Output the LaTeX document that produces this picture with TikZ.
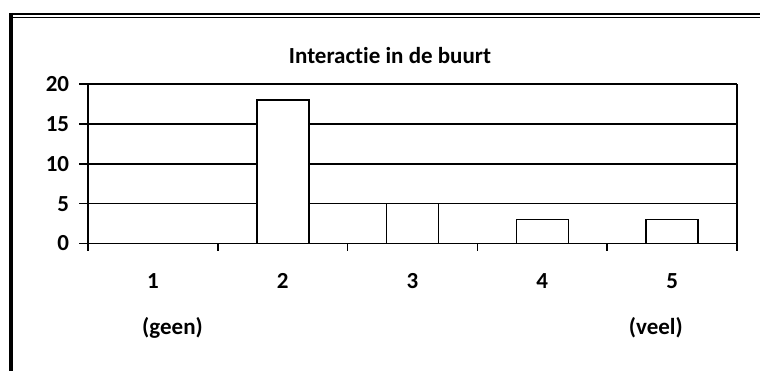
\documentclass[tikz,border=0pt]{standalone}
\usepackage{fontspec}
\setmainfont[RawFeature=-liga]{Carlito}
\begin{document}
\begin{tikzpicture}[x=1pt,y=-1pt,
  lbl/.style={inner sep=0pt, font=\fontsize{23}{27}\selectfont\bfseries},
  gridln/.style={line width=1.6pt},
  barbox/.style={draw, fill=white, line width=1.6pt},
  frame/.style={line cap=butt}]
\useasboundingbox (0,0) rectangle (760,371);
\fill[white] (0,0) rectangle (760,371);
% page border
\draw[frame, line width=2.4pt] (9,14.0) -- (760,14.0);
\draw[frame, line width=1.1pt] (13,17.3) -- (760,17.3);
\draw[frame, line width=4pt] (11,12.8) -- (11,371);
% plot geometry
\def\xa{88}\def\cw{129.8}\def\yz{243.5}\def\uy{7.96}
% grid lines and y ticks
\foreach \v in {0,5,10,15,20}{
  \draw[gridln] (79.3,\yz-\v*\uy) -- (737,\yz-\v*\uy);
}
% axes
\draw[gridln] (\xa,84.3) -- (\xa,251.5);
\draw[gridln] (737,84.3) -- (737,251.5);
\foreach \i in {1,2,3,4}{
  \draw[gridln] (\xa+\i*\cw,\yz) -- (\xa+\i*\cw,251.5);
}
% bars
\foreach \i/\v in {2/18,3/5,4/3,5/3}{
  \draw[barbox] (\xa+\i*\cw-\cw/2-26,\yz) rectangle (\xa+\i*\cw-\cw/2+26,\yz-\v*\uy);
}
% y labels
\foreach \v in {0,5,10,15,20}{
  \node[lbl, anchor=east] (y\v) at (69.3,\yz-\v*\uy) {\v};
}
% title
\node[lbl, anchor=base] (title) at (390,64) {Interactie in de buurt};
% category labels
\foreach \i in {1,...,5}{
  \node[lbl, anchor=base] (c\i) at (\xa+\i*\cw-\cw/2,289) {\i};
}
\node[lbl, anchor=base] (geen) at (172.5,334) {(geen)};
\node[lbl, anchor=base] (veel) at (655.8,334) {(veel)};
\end{tikzpicture}
\end{document}
